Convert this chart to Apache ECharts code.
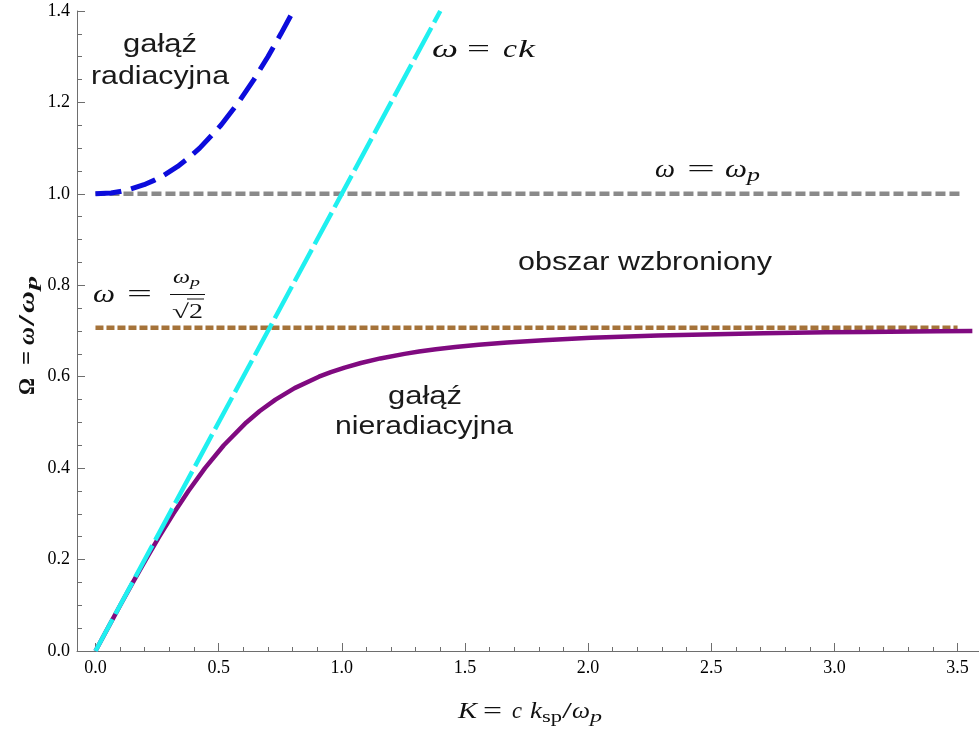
<!DOCTYPE html>
<html>
<head>
<meta charset="utf-8">
<script src="https://cdn.jsdelivr.net/npm/echarts@6/dist/echarts.min.js"></script>
<style>
html,body{margin:0;padding:0;background:#fff;}
#chart{width:979px;height:731px;}
</style>
</head>
<body>
<div id="chart"></div>
<script>
// ---- data ----
// non-radiative (lower) branch: K values and Omega values
const lowerK = [0, 0.0501, 0.1005, 0.1518, 0.2043, 0.2588, 0.3160, 0.3773, 0.4446, 0.5210, 0.6124, 0.6670, 0.7309, 0.8083, 0.9071, 0.9557, 1.0117, 1.0774, 1.1565, 1.2547, 1.3137, 1.3816, 1.4611, 1.5558, 1.6717, 1.8182, 2.0116, 2.2843, 2.4707, 2.7121, 2.9667, 3.1245, 3.4172, 3.56];
const lowerW = [0, 0.05, 0.10, 0.15, 0.20, 0.25, 0.30, 0.35, 0.40, 0.45, 0.50, 0.525, 0.55, 0.575, 0.60, 0.61, 0.62, 0.63, 0.64, 0.65, 0.655, 0.66, 0.665, 0.67, 0.675, 0.68, 0.685, 0.69, 0.6925, 0.695, 0.697, 0.698, 0.6995, 0.7001];
// radiative (upper) branch
const upperK = [0, 0.0632, 0.0996, 0.1404, 0.1972, 0.2400, 0.2755, 0.3337, 0.3816, 0.4230, 0.5092, 0.5805, 0.6431, 0.7000, 0.7528, 0.8028];
const upperW = [1.0, 1.002, 1.005, 1.01, 1.02, 1.03, 1.04, 1.06, 1.08, 1.10, 1.15, 1.20, 1.25, 1.30, 1.35, 1.40];
// light line omega = ck
const lightK = [0, 1.4];
const lightW = [0, 1.4];
// omega = omega_p
const plasmaK = [0, 3.52];
const plasmaW = [1.0, 1.0];
// omega = omega_p / sqrt(2)
const spK = [0, 3.50];
const spW = [0.7071, 0.7071];
// ticks
const xTicks = [0, 0.5, 1.0, 1.5, 2.0, 2.5, 3.0, 3.5];
const xMinorTicks = [0.1,0.2,0.3,0.4,0.6,0.7,0.8,0.9,1.1,1.2,1.3,1.4,1.6,1.7,1.8,1.9,2.1,2.2,2.3,2.4,2.6,2.7,2.8,2.9,3.1,3.2,3.3,3.4,3.6];

const zip = (a, b) => a.map((v, i) => [v, b[i]]);

// ---- text helpers ----
const SERIF = '"Liberation Serif", "Times New Roman", serif';
const SANS = '"Liberation Sans", Arial, sans-serif';
const mctx = document.createElement('canvas').getContext('2d');
function measure(t, size, fam, italic, bold) {
  mctx.font = (italic ? 'italic ' : '') + (bold ? 'bold ' : '') + size + 'px ' + fam;
  return mctx.measureText(t).width;
}
// place text so that it spans x0..x1 with baseline at base
function piece(t, x0, x1, base, size, o) {
  o = o || {};
  const fam = o.fam || SERIF;
  const w = measure(t, size, fam, o.italic, o.bold);
  const sx = (x1 - x0) / w;
  return {
    type: 'text', x: x0, y: base - 0.19 * size, scaleX: sx, originX: 0, originY: 0,
    z: 100,
    style: {
      text: t, x: 0, y: 0,
      fill: o.color || '#111',
      fontFamily: fam, fontSize: size,
      fontStyle: o.italic ? 'italic' : 'normal',
      fontWeight: o.bold ? 'bold' : 'normal',
      textAlign: 'left', textVerticalAlign: 'middle',
      align: 'left', verticalAlign: 'middle'
    }
  };
}

const graphics = [
  // sans annotations
  piece('gałąź', 123, 197, 50, 25, {fam: SANS, color: '#1a1a1a'}),
  piece('radiacyjna', 91, 229, 82, 25, {fam: SANS, color: '#1a1a1a'}),
  piece('obszar wzbroniony', 518, 772, 268, 25, {fam: SANS, color: '#1a1a1a'}),
  piece('gałąź', 388, 462, 402, 25, {fam: SANS, color: '#1a1a1a'}),
  piece('nieradiacyjna', 335, 513, 432, 25, {fam: SANS, color: '#1a1a1a'}),
  // omega = ck
  piece('ω', 432, 458, 55, 26, {italic: true}),
  piece('=', 467, 490, 55, 26),
  piece('c', 503, 517, 55, 26, {italic: true}),
  piece('k', 518, 535, 55, 26, {italic: true}),
  // omega = omega_p
  piece('ω', 655, 675, 175, 26, {italic: true}),
  piece('=', 687, 715, 175, 26),
  piece('ω', 725, 747, 175, 26, {italic: true}),
  piece('p', 747, 760, 180, 18, {italic: true}),
  // omega = omega_p / sqrt2
  piece('ω', 93, 115, 300, 26, {italic: true}),
  piece('=', 127, 152, 300, 26),
  piece('ω', 173, 190, 282, 19, {italic: true}),
  piece('p', 190, 200, 285, 13, {italic: true}),
  {type: 'line', z: 100, shape: {x1: 170, y1: 294.5, x2: 205, y2: 294.5}, style: {stroke: '#111', lineWidth: 1.2}},
  piece('√', 172, 189, 317, 20),
  piece('2', 189, 203, 317, 20),
  {type: 'line', z: 100, shape: {x1: 187, y1: 299, x2: 204, y2: 299}, style: {stroke: '#111', lineWidth: 1}},
  // x axis title
  piece('K', 458, 477, 716, 24, {italic: true}),
  piece('=', 483, 502, 716, 24),
  piece('c', 512, 522, 716, 24, {italic: true}),
  piece('k', 530, 542, 716, 24, {italic: true}),
  piece('sp', 542, 562, 721, 16),
  piece('/', 562, 572, 716, 24),
  piece('ω', 572, 590, 716, 24, {italic: true}),
  piece('p', 590, 602, 721, 16, {italic: true}),
  // y axis title (rotated)
  {
    type: 'group', x: 32, y: 395, rotation: Math.PI / 2,
    children: [
      piece('Ω', 0, 17, 0, 24, {bold: true}),
      piece('=', 30, 44, 0, 24, {bold: true}),
      piece('ω', 50, 68, 0, 24, {bold: true, italic: true}),
      piece('/', 69, 80, 0, 24, {bold: true}),
      piece('ω', 82, 104, 0, 24, {bold: true, italic: true}),
      piece('p', 105, 119, 4, 17, {bold: true, italic: true})
    ]
  }
];

const chart = echarts.init(document.getElementById('chart'), null, {renderer: 'canvas'});
const axisColor = '#6e6e6e';
const option = {
  animation: false,
  backgroundColor: '#ffffff',
  grid: {left: 77, right: 0, top: 11, bottom: 80, containLabel: false},
  xAxis: [
    {
      type: 'value', min: -0.075, max: 3.587,
      axisLine: {show: true, onZero: false, lineStyle: {color: axisColor, width: 1}},
      axisTick: {show: true, inside: true, length: 8, customValues: xTicks, lineStyle: {color: axisColor}},
      axisLabel: {show: true, customValues: xTicks, margin: 8, color: '#000', fontFamily: SERIF, fontSize: 18,
        formatter: v => Number(v).toFixed(1)},
      splitLine: {show: false}
    },
    {
      type: 'value', min: -0.075, max: 3.587, position: 'bottom',
      axisLine: {show: false, onZero: false},
      axisTick: {show: true, inside: true, length: 4, customValues: xMinorTicks, lineStyle: {color: axisColor}},
      axisLabel: {show: false},
      splitLine: {show: false}
    }
  ],
  yAxis: {
    type: 'value', min: 0, max: 1.4, interval: 0.2,
    axisLine: {show: true, onZero: false, lineStyle: {color: axisColor, width: 1}},
    axisTick: {show: true, inside: true, length: 8, lineStyle: {color: axisColor}},
    minorTick: {show: true, splitNumber: 4, length: 5, lineStyle: {color: axisColor}},
    axisLabel: {margin: 7, color: '#000', fontFamily: SERIF, fontSize: 18, formatter: v => Number(v).toFixed(1)},
    splitLine: {show: false}
  },
  series: [
    {
      name: 'omega_p', type: 'line', xAxisIndex: 0, data: zip(plasmaK, plasmaW), showSymbol: false,
      lineStyle: {color: '#8a8a8a', width: 4.5, type: [10, 4]}
    },
    {
      name: 'omega_sp', type: 'line', xAxisIndex: 0, data: zip(spK, spW), showSymbol: false,
      lineStyle: {color: '#a5733a', width: 4.5, type: [8, 3]}
    },
    {
      name: 'lower', type: 'line', xAxisIndex: 0, data: zip(lowerK, lowerW), showSymbol: false,
      smooth: false,
      lineStyle: {color: '#800a80', width: 4.5, join: 'round'}
    },
    {
      name: 'upper', type: 'line', xAxisIndex: 0, data: zip(upperK, upperW), showSymbol: false,
      smooth: false,
      lineStyle: {color: '#0c0cdc', width: 5, type: [26, 10], join: 'round'}
    },
    {
      name: 'light', type: 'line', xAxisIndex: 0, data: zip(lightK, lightW), showSymbol: false,
      lineStyle: {color: '#1ff0f0', width: 4.5, type: [36, 6]}
    }
  ],
  graphic: {elements: graphics}
};
chart.setOption(option);
</script>
</body>
</html>
